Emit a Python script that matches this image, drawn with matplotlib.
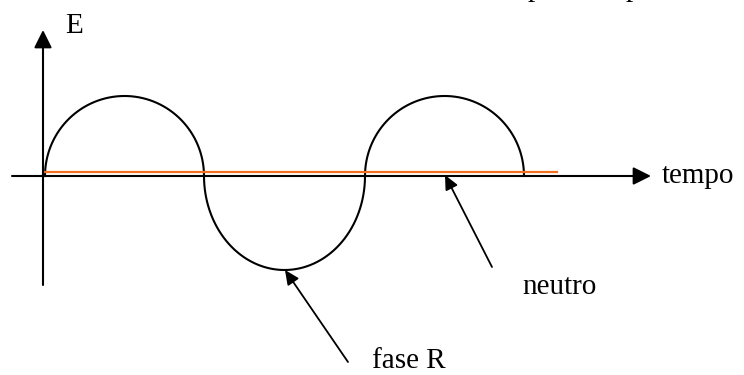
import numpy as np
import matplotlib.pyplot as plt

# schematic values (pixel-like units, origin where the axes cross)
cross_t = [2, 161, 322, 481]      # zero crossings of the phase curve
half_amp = [80, -94, 80]          # height of each half cycle
neutral_t = [2, 514]              # neutral line start/end
neutral_e = 4
yaxis_e = [-109, 146]
xaxis_t = [-31, 608]

plt.rcParams['font.family'] = ['Liberation Serif', 'DejaVu Serif']

fig = plt.figure(figsize=(7.44, 3.75), dpi=100)
ax = fig.add_axes([0, 0, 1, 1])
ax.set_xlim(-43, 701)
ax.set_ylim(-199, 176)
ax.axis('off')

# axes with arrow heads
ax.annotate('', xy=(0, yaxis_e[1]), xytext=(0, yaxis_e[0]),
            arrowprops=dict(arrowstyle='-|>,head_length=0.54,head_width=0.27',
                            mutation_scale=20, color='black', lw=1.5,
                            shrinkA=0, shrinkB=0))
ax.annotate('', xy=(xaxis_t[1], 0), xytext=(xaxis_t[0], 0),
            arrowprops=dict(arrowstyle='-|>,head_length=0.54,head_width=0.27',
                            mutation_scale=20, color='black', lw=1.5,
                            shrinkA=0, shrinkB=0))

# phase curve made of half ellipses
for i in range(len(half_amp)):
    a = (cross_t[i + 1] - cross_t[i]) / 2
    c = (cross_t[i + 1] + cross_t[i]) / 2
    th = np.linspace(np.pi, 0, 200)
    ax.plot(c + a * np.cos(th), half_amp[i] * np.sin(th), color='black', lw=1.5)

# neutral
ax.plot(neutral_t, [neutral_e, neutral_e], color='#f07020', lw=1.6)

ax.text(22, 143, 'E', fontsize=21, va='baseline')
ax.text(619, -7, 'tempo', fontsize=21, va='baseline')
# tail of a text line cut off at the top edge
ax.text(485, 180, 'p', fontsize=21, va='baseline')
ax.text(583, 180, 'p', fontsize=21, va='baseline')

ax.annotate('', xy=(402, 1), xytext=(449, -91),
            arrowprops=dict(arrowstyle='-|>,head_length=0.43,head_width=0.2',
                            mutation_scale=20, color='black', lw=1.3,
                            shrinkA=0, shrinkB=0))
ax.text(479, -118, 'neutro', fontsize=21, va='baseline')

ax.annotate('', xy=(242, -94), xytext=(305, -186),
            arrowprops=dict(arrowstyle='-|>,head_length=0.43,head_width=0.2',
                            mutation_scale=20, color='black', lw=1.3,
                            shrinkA=0, shrinkB=0))
ax.text(329, -192, 'fase R', fontsize=21, va='baseline')

fig.savefig('out.png', dpi=100)
